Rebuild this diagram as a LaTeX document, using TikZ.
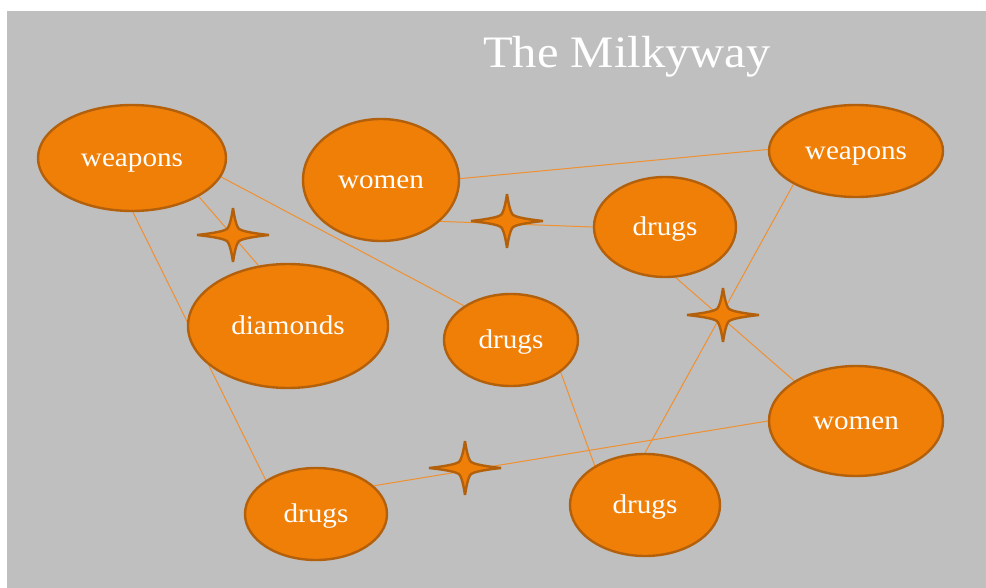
\documentclass[tikz,border=0pt]{standalone}
\usepackage{fontspec}
\setmainfont{Liberation Serif}[FakeStretch=1.08]
\usetikzlibrary{shapes.geometric}
\pgfdeclarelayer{bg}
\pgfdeclarelayer{edges}
\pgfsetlayers{bg,edges,main}
\definecolor{slidegray}{HTML}{BFBFBF}
\definecolor{orangefill}{HTML}{F07F08}
\definecolor{orangeline}{HTML}{B3600C}
\definecolor{linkcol}{HTML}{F09030}
\tikzset{
  blob/.style={ellipse, fill=orangefill, draw=orangeline, line width=2.4pt,
    inner sep=0pt, text=white, font=\fontsize{27}{30}\selectfont,
    text height=17pt, text depth=0pt},
  link/.style={draw=linkcol, line width=1pt},
  sparkstyle/.style={fill=orangefill, draw=orangeline, line width=2.4pt, line join=miter, miter limit=4},
  spark/.pic={
    \path[sparkstyle] (0,-27) .. controls (2,-14) and (4,-8) .. (6,-6)
      .. controls (9,-4) and (18,-2) .. (36,0)
      .. controls (18,2) and (9,4) .. (6,6)
      .. controls (4,8) and (2,14) .. (0,27)
      .. controls (-2,14) and (-4,8) .. (-6,6)
      .. controls (-9,4) and (-18,2) .. (-36,0)
      .. controls (-18,-2) and (-9,-4) .. (-6,-6)
      .. controls (-4,-8) and (-2,-14) .. cycle;
  }
}
\begin{document}
\begin{tikzpicture}[x=1pt,y=-1pt]
\useasboundingbox (0,0) rectangle (986,588);
\begin{pgfonlayer}{bg}
\fill[white] (0,0) rectangle (986,588);
\fill[slidegray] (7,11) rectangle (986,588);
\end{pgfonlayer}

\node[anchor=base, text=white, font=\fontsize{45}{50}\selectfont] (title) at (627,68) {The Milkyway};

\node[blob, minimum width=188pt, minimum height=106pt] (wL) at (132,158) {weapons};
\node[blob, minimum width=156pt, minimum height=122pt] (wT) at (381,180) {women};
\node[blob, minimum width=200pt, minimum height=124pt] (dia) at (288,326) {diamonds};
\node[blob, minimum width=134pt, minimum height=92pt] (dM) at (511,340) {drugs};
\node[blob, minimum width=142pt, minimum height=100pt] (dTR) at (665,227) {drugs};
\node[blob, minimum width=174pt, minimum height=92pt] (wR) at (856,151) {weapons};
\node[blob, minimum width=174pt, minimum height=110pt] (woR) at (856,421) {women};
\node[blob, minimum width=142pt, minimum height=92pt] (dBL) at (316,514) {drugs};
\node[blob, minimum width=150pt, minimum height=102pt] (dB) at (645,505) {drugs};

\begin{pgfonlayer}{edges}
\draw[link] (wL.-12.5) -- (dM.144);
\draw[link] (wL.-30) -- (dia.116);
\draw[link] (wL.-89) -- (dBL.146);
\draw[link] (wT.1) -- (wR.179);
\draw[link] (wT.-35) -- (dTR.180);
\draw[link] (dTR.-78) -- (woR.147);
\draw[link] (wR.208) -- (dB.90);
\draw[link] (dM.-33) -- (dB.142);
\draw[link] (dBL.26) -- (woR.180);
\end{pgfonlayer}

\pic (s1) at (233,235) {spark};
\pic (s2) at (507,221) {spark};
\pic (s3) at (723,315) {spark};
\pic (s4) at (465,468) {spark};
\end{tikzpicture}
\end{document}
